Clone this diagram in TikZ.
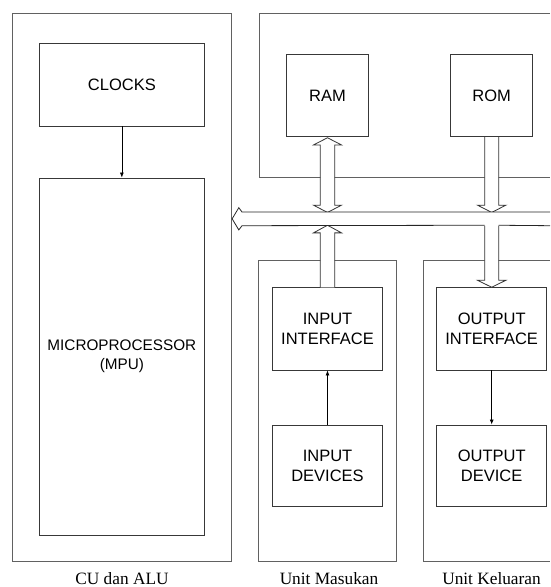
\documentclass[tikz,border=0pt]{standalone}
\usepackage{fontspec}
\setmainfont{Liberation Serif}
\newfontfamily\arialf{Liberation Sans}
\usetikzlibrary{arrows.meta,calc}
\begin{document}
\begin{tikzpicture}[x=1pt,y=-1pt,
 box/.style={draw=black!78,line width=0.9pt,rectangle,inner sep=0pt,align=center,
   font=\arialf\fontsize{16.5}{20}\selectfont},
 outer/.style={draw=black!62,line width=0.9pt},
 blk/.style={draw=black!80,fill=white,line width=0.8pt,line join=miter},
 thinarrow/.style={draw=black,line width=0.7pt,-{Latex[length=5pt,width=4pt]}},
 lbl/.style={font=\fontsize{17.3}{20}\selectfont,anchor=base,inner sep=0pt}]
\useasboundingbox (0,0) rectangle (550,587);
\fill[white] (0,0) rectangle (550,587);

% outer unit frames
\node[outer,rectangle,inner sep=0pt,minimum width=219.7pt,minimum height=548.7pt] (cu) at (121.85,287.35) {};
\coordinate (memtl) at (259,13.5);
\draw[outer] (550,13.5) -- (memtl) -- (259,177.7) -- (550,177.7);
\node[outer,rectangle,inner sep=0pt,minimum width=137.7pt,minimum height=301pt] (um) at (327.15,411.2) {};
\coordinate (uktl) at (423.3,260.7);
\draw[outer] (550,260.7) -- (uktl) -- (423.3,561.7) -- (550,561.7);

% inner boxes
\node[box,minimum width=164.3pt,minimum height=82.3pt] (clk) at (121.85,84.85) {CLOCKS};
\node[box,minimum width=164.3pt,minimum height=357pt,font=\arialf\fontsize{15.3}{19}\selectfont] (mpu) at (121.85,356.5) {MICROPROCESSOR\\(MPU)};
\node[box,minimum width=82pt,minimum height=82pt] (ram) at (327.5,95.7) {RAM};
\node[box,minimum width=82pt,minimum height=82pt] (rom) at (491.7,95.7) {ROM};
\node[box,minimum width=110.4pt,minimum height=82.3pt] (inif) at (327.5,328.85) {INPUT\\INTERFACE};
\node[box,minimum width=110.4pt,minimum height=81.7pt] (indev) at (327.5,465.85) {INPUT\\DEVICES};
\node[box,minimum width=110pt,minimum height=82.3pt] (outif) at (491.7,328.85) {OUTPUT\\INTERFACE};
\node[box,minimum width=110pt,minimum height=81.7pt] (outdev) at (491.7,465.85) {OUTPUT\\DEVICE};

% thin arrows
\draw[thinarrow] (clk) -- (mpu);
\draw[thinarrow] (indev) -- (inif);
\draw[thinarrow] (outif) -- (outdev);

% block arrows
\begin{scope}[shift={(ram.south)}]
 \draw[blk] (0,0.6) -- (14,7.8) -- (7.2,7.8) -- (7.2,68) -- (14,68) -- (0,75.3)
   -- (-14,68) -- (-7.2,68) -- (-7.2,7.8) -- (-14,7.8) -- cycle;
\end{scope}
\begin{scope}[shift={(rom.south)}]
 \draw[blk] (-7,0) -- (-7,68) -- (-14.2,68) -- (0,75.3) -- (14.2,68) -- (7,68) -- (7,0);
\end{scope}
\begin{scope}[shift={(inif.north)}]
 \draw[blk] (-7.2,0) -- (-7.2,-54.4) -- (-14,-54.4) -- (0,-62) -- (14,-54.4) -- (7.2,-54.4) -- (7.2,0);
\end{scope}
\begin{scope}[shift={(outif.north)}]
 \fill[white] (-7,-62) -- (-7,-7) -- (-14.2,-7) -- (0,0) -- (14.2,-7) -- (7,-7) -- (7,-62) -- cycle;
 \draw[blk,fill=none] (-7,-62) -- (-7,-7) -- (-14.2,-7) -- (0,0) -- (14.2,-7) -- (7,-7) -- (7,-62);
 \coordinate (gapl) at (-7,-62);
 \coordinate (gapr) at (7,-62);
\end{scope}

% system bus
\coordinate (bustip) at (cu.east |- 0,218.8);
\fill[white] (bustip) -- (238.8,207.7) -- (242,212) -- (550,212) -- (550,225.7) -- (242,225.7) -- (238.8,229.9) -- cycle;
\draw[draw=black!85,line width=0.8pt,line join=miter] (550,212) -- (242,212) -- (238.8,207.7) -- (bustip)
  -- (238.8,229.9) -- (242,225.7) -- (gapl);
\draw[draw=black!85,line width=0.8pt] (gapr) -- (550,225.7);

% labels
\node[lbl] (lcu) at (122,584) {CU dan ALU};
\node[lbl] (lum) at (329,584) {Unit Masukan};
\node[lbl] (luk) at (491.5,584) {Unit Keluaran};
\end{tikzpicture}
\end{document}
